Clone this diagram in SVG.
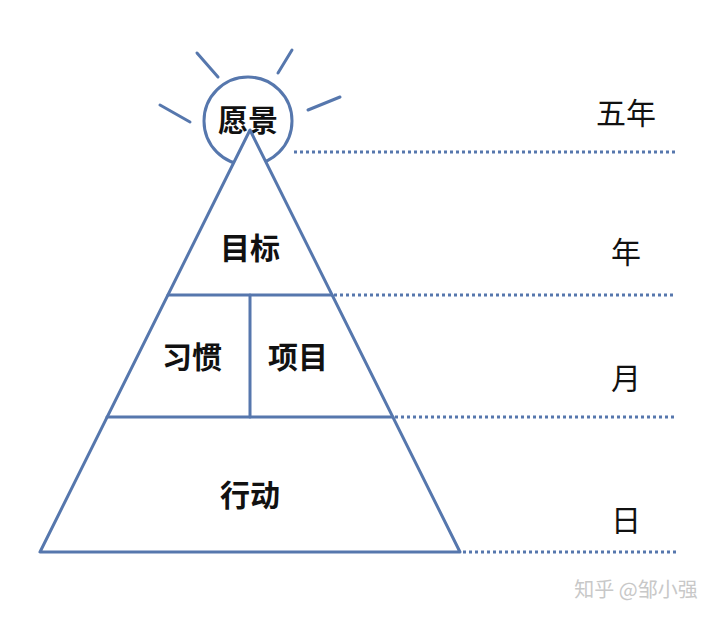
<svg xmlns="http://www.w3.org/2000/svg" width="720" height="620" viewBox="0 0 720 620">
<style>
.ln{stroke:#5677ad;stroke-width:3;fill:none;stroke-linecap:round}
.dot{stroke:#5677ad;stroke-width:3;fill:none;stroke-dasharray:3 3}
.lbl{font-family:"Noto Sans CJK SC","Noto Sans",sans-serif;font-weight:bold;font-size:30px;fill:#111;text-anchor:middle}
.time{font-family:"Noto Sans CJK SC","Noto Sans",sans-serif;font-size:30px;fill:#111;text-anchor:middle}
.wm{font-family:"Noto Sans CJK SC","Noto Sans",sans-serif;font-size:20px;fill:#c8c8c8;text-anchor:middle}
</style>
<rect width="720" height="620" fill="#fff"/>
<g id="sun">
<circle cx="248" cy="121" r="44" fill="#fff" class="ln"/>
<line class="ln" x1="197" y1="53" x2="218" y2="77"/>
<line class="ln" x1="292" y1="50" x2="278" y2="73"/>
<line class="ln" x1="160" y1="105" x2="190" y2="122"/>
<line class="ln" x1="340" y1="97" x2="308" y2="110"/>
<text class="lbl" x="248" y="131">愿景</text>
</g>
<g id="connectors">
<line class="dot" x1="294" y1="152" x2="676" y2="152"/>
<line class="dot" x1="334" y1="295" x2="676" y2="295"/>
<line class="dot" x1="395" y1="417" x2="676" y2="417"/>
<line class="dot" x1="463" y1="552" x2="676" y2="552"/>
</g>
<g id="pyramid">
<polygon points="250,130 40,552 460,552" fill="#fff" stroke="#5677ad" stroke-width="3" stroke-linejoin="round"/>
<line class="ln" x1="168" y1="295" x2="332" y2="295"/>
<line class="ln" x1="107" y1="417" x2="393" y2="417"/>
<line class="ln" x1="250" y1="295" x2="250" y2="417"/>
</g>
<g id="goal"><text class="lbl" x="250" y="259">目标</text></g>
<g id="habit"><text class="lbl" x="192" y="368">习惯</text></g>
<g id="project"><text class="lbl" x="298" y="368">项目</text></g>
<g id="action"><text class="lbl" x="250" y="506">行动</text></g>
<g id="times">
<text class="time" x="626" y="124">五年</text>
<text class="time" x="626" y="263">年</text>
<text class="time" x="626" y="389">月</text>
<text class="time" x="626" y="531">日</text>
</g>
<text class="wm" x="636" y="597">知乎 @邹小强</text>
</svg>
